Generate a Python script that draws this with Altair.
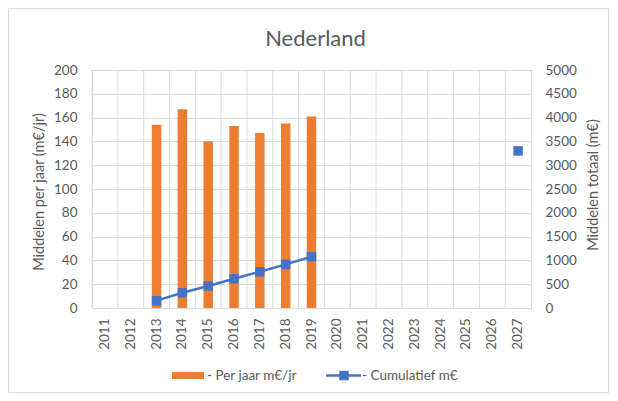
import altair as alt
import pandas as pd

years = [str(y) for y in range(2011, 2028)]
per_jaar = [None, None, 154, 167, 140, 153, 147, 155, 161,
            None, None, None, None, None, None, None, None]
cumulatief = [None, None, 154, 321, 461, 614, 761, 916, 1077,
              None, None, None, None, None, None, None, 3300]

title_text = "Nederland"
left_title = "Middelen per jaar (m€/jr)"
right_title = "Middelen totaal (m€)"
legend_bar = "- Per jaar m€/jr"
legend_line = "- Cumulatief m€"
left_ticks = list(range(0, 201, 20))
right_ticks = list(range(0, 5001, 500))

ORANGE = "#ED7D31"
BLUE = "#4472C4"
TEXT = "#595959"
GRID = "#D9D9D9"
FONT = "Lato"

# segment ids so the line breaks across missing years
seg = []
s = 0
prev = None
for v in cumulatief:
    if v is not None and prev is None:
        s += 1
    seg.append(s)
    prev = v

df = pd.DataFrame({"year": years, "per_jaar": per_jaar, "cum": cumulatief, "seg": seg})
one = pd.DataFrame({"k": [0]})

W, H = 439, 238
PL, PT, PR, PB = 84, 62, 79, 85

x_scale = alt.Scale(type="band", domain=years, paddingInner=0, paddingOuter=0)
x_axis = alt.Axis(title=None, labelAngle=270, labelPadding=10, ticks=False, domain=False,
                  grid=False, labelFontSize=13.5, labelColor=TEXT, labelFont=FONT)


def xenc(**kw):
    return alt.X("year:N", sort=years, scale=x_scale, axis=x_axis, **kw)


grid_rules = alt.Chart(df).mark_rule(color=GRID, strokeWidth=1).encode(
    x=xenc(bandPosition=0), y=alt.value(0), y2=alt.value(H)
)

bars = alt.Chart(df).mark_bar(color=ORANGE, width=9.5).encode(
    x=xenc(),
    y=alt.Y("per_jaar:Q", scale=alt.Scale(domain=[0, 200], nice=False),
            axis=alt.Axis(title=None, values=left_ticks, labelPadding=15, ticks=False,
                          domain=False, grid=True, gridColor=GRID, labelFontSize=13.5,
                          labelColor=TEXT, labelFont=FONT, format="d")),
)

right_axis = alt.Axis(title=None, orient="right", values=right_ticks, labelPadding=14,
                      ticks=False, domain=False, grid=False, labelFontSize=13.5,
                      labelColor=TEXT, labelFont=FONT, format="d")

line = alt.Chart(df).mark_line(color=BLUE, strokeWidth=2.5).encode(
    x=xenc(),
    y=alt.Y("cum:Q", scale=alt.Scale(domain=[0, 5000], nice=False), axis=right_axis),
    detail="seg:N",
)
points = alt.Chart(df).mark_point(shape="square", filled=True, size=90, color=BLUE, opacity=1).encode(
    x=xenc(),
    y=alt.Y("cum:Q", scale=alt.Scale(domain=[0, 5000], nice=False), axis=right_axis),
)
cum_layer = alt.layer(line, points)


def txt(t, x, y, size=13, angle=0, align="left"):
    return alt.Chart(pd.DataFrame({"t": [t]})).mark_text(
        font=FONT, fontSize=size, color=TEXT, angle=angle, align=align, baseline="middle"
    ).encode(text="t:N", x=alt.value(x), y=alt.value(y))


title = txt(title_text, 223.5, -31, size=22, align="center")
ltitle = txt(left_title, 40 - 92, 192 - 70, size=14.5, angle=270, align="center")
rtitle = txt(right_title, 594 - 92, 185 - 70, size=14.5, angle=270, align="center")

leg_rect = alt.Chart(one).mark_rect(color=ORANGE).encode(
    x=alt.value(80), x2=alt.value(112), y=alt.value(302), y2=alt.value(309)
)
leg_t1 = txt(legend_bar, 115, 305.5, size=13.5)
leg_line = alt.Chart(one).mark_rule(color=BLUE, strokeWidth=2.5).encode(
    x=alt.value(234), x2=alt.value(269), y=alt.value(305.5)
)
leg_sq = alt.Chart(one).mark_point(shape="square", filled=True, size=90, color=BLUE, opacity=1).encode(
    x=alt.value(252), y=alt.value(305.5)
)
leg_t2 = txt(legend_line, 270, 305.5, size=13.5)

border = alt.Chart(one).mark_rect(fillOpacity=0, stroke=GRID, strokeWidth=1).encode(
    x=alt.value(-PL + 0.5), x2=alt.value(W + PR - 1.5),
    y=alt.value(-PT + 0.5), y2=alt.value(H + PB - 0.5)
)

chart = alt.layer(
    border, grid_rules, bars, cum_layer, title, ltitle, rtitle,
    leg_rect, leg_t1, leg_line, leg_sq, leg_t2
).resolve_scale(y="independent").properties(
    width=W, height=H,
    autosize=alt.AutoSizeParams(type="none"),
    padding={"left": PL, "top": PT, "right": PR, "bottom": PB},
).configure_view(stroke=GRID, strokeWidth=1)

chart.save("out.html", embed_options={"renderer": "svg", "actions": False})
